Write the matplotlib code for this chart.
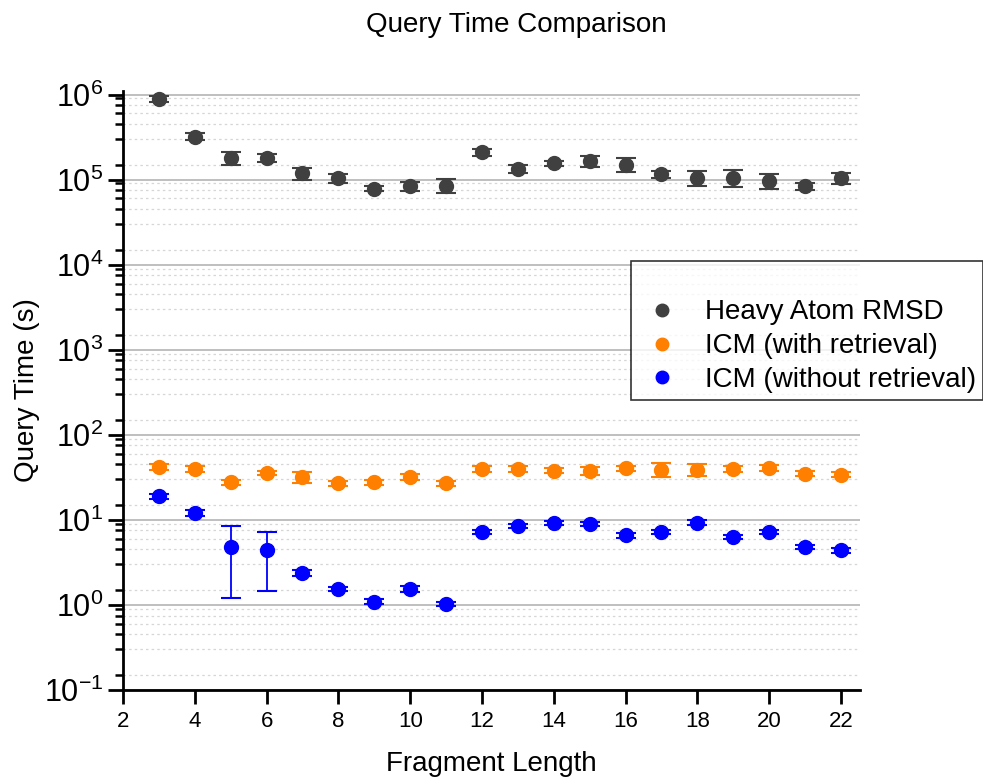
import numpy as np
import matplotlib
matplotlib.use('Agg')
import matplotlib.pyplot as plt
from matplotlib.lines import Line2D
from matplotlib.ticker import LogLocator, NullFormatter, FixedLocator, FuncFormatter

plt.rcParams['font.family'] = ['Liberation Sans', 'DejaVu Sans']
plt.rcParams['mathtext.fontset'] = 'custom'
plt.rcParams['mathtext.rm'] = 'Liberation Sans'

# 数据
frag_len = list(range(3, 23))

heavy_rmsd = [8.9e5, 3.2e5, 1.8e5, 1.8e5, 1.18e5, 1.03e5, 7.8e4, 8.4e4, 8.5e4, 2.1e5,
              1.35e5, 1.55e5, 1.65e5, 1.5e5, 1.15e5, 1.05e5, 1.05e5, 9.7e4, 8.4e4, 1.03e5]
heavy_err = [8e4, 3e4, 3e4, 2e4, 1.8e4, 1.3e4, 5e3, 1e4, 1.6e4, 2e4,
             1.5e4, 1.2e4, 2.5e4, 2.8e4, 1e4, 2e4, 2.3e4, 2e4, 8e3, 1.5e4]

icm_with = [42, 40, 27.8, 35.5, 31.8, 27, 27.8, 32.3, 27, 40,
            40, 38, 38, 40.4, 39, 39, 40, 41, 35, 34]
icm_with_err = [3, 3, 2, 2, 5, 2, 2, 2.5, 2, 3,
                3, 2.5, 4, 3, 7, 6, 3, 3, 2.5, 2.5]

icm_without = [19, 12.1, 4.8, 4.37, 2.36, 1.54, 1.09, 1.53, 1.02, 7.2,
               8.5, 9.2, 9.0, 6.6, 7.2, 9.3, 6.3, 7.2, 4.8, 4.4]
icm_without_err = [1.2, 0.9, 3.6, 2.9, 0.18, 0.1, 0.07, 0.12, 0.06, 0.45,
                   0.55, 0.6, 0.55, 0.4, 0.45, 0.6, 0.4, 0.45, 0.3, 0.3]

labels = ['Heavy Atom RMSD', 'ICM (with retrieval)', 'ICM (without retrieval)']
colors = ['#404040', '#ff8000', '#0000ff']

fig = plt.figure(figsize=(9.83, 7.8), dpi=100)
ax = fig.add_axes([123 / 983, 1 - 690 / 780, (860 - 123) / 983, (690 - 91) / 780])

series = [(heavy_rmsd, heavy_err), (icm_with, icm_with_err), (icm_without, icm_without_err)]
for (vals, errs), c in zip(series, colors):
    ax.errorbar(frag_len, vals, yerr=errs, fmt='o', color=c, ecolor=c,
                markersize=10, capsize=7, capthick=1.5, elinewidth=1.3, zorder=3)

ax.set_yscale('log')
ax.set_ylim(0.1, 1.1e6)
ax.set_xlim(2, 22.53)

ax.xaxis.set_major_locator(FixedLocator(range(2, 23, 2)))
ax.yaxis.set_major_locator(LogLocator(base=10, numticks=20))
# 次刻度 1.5 步长
ax.yaxis.set_minor_locator(LogLocator(base=10, subs=[1.5, 3, 4.5, 6, 7.5, 9], numticks=20))
ax.yaxis.set_minor_formatter(NullFormatter())
ax.yaxis.set_major_formatter(FuncFormatter(
    lambda v, p: r'$\mathregular{10^{%d}}$' % int(round(np.log10(v)))))

# 网格
ax.grid(True, which='major', axis='y', color='#b4b4b4', linewidth=1.2, zorder=0)
ax.grid(True, which='minor', axis='y', color='#d6d6d6', linewidth=0.9,
        linestyle=(0, (2, 2.5)), zorder=0)
ax.set_axisbelow(True)

for s in ['top', 'right']:
    ax.spines[s].set_visible(False)
for s in ['left', 'bottom']:
    ax.spines[s].set_linewidth(2)

ax.tick_params(axis='y', which='major', direction='out', length=11, width=2, labelsize=22, pad=3)
ax.tick_params(axis='y', which='minor', direction='out', length=6, width=1.8)
ax.tick_params(axis='x', which='major', direction='out', length=10, width=2, labelsize=16, pad=5)

ax.set_xlabel('Fragment Length', fontsize=20, labelpad=14)
ax.set_ylabel('Query Time (s)', fontsize=20, labelpad=3)

fig.text(516 / 983, 1 - 25 / 780, 'Query Time Comparison', fontsize=20,
         ha='center', va='center')

# 图例
handles = [Line2D([], [], marker='o', linestyle='none', color=c, markersize=9)
           for c in colors]
leg = fig.legend(handles, labels, loc='lower left', bbox_to_anchor=(631 / 983, 1 - 400 / 780),
                 fontsize=20, frameon=True, fancybox=False, edgecolor='black',
                 title=' ', title_fontsize=19, handletextpad=0.7,
                 borderpad=0.25, labelspacing=0.28, handlelength=1.7,
                 borderaxespad=0)
leg.get_frame().set_linewidth(1.2)

plt.savefig('out.png', dpi=100)
